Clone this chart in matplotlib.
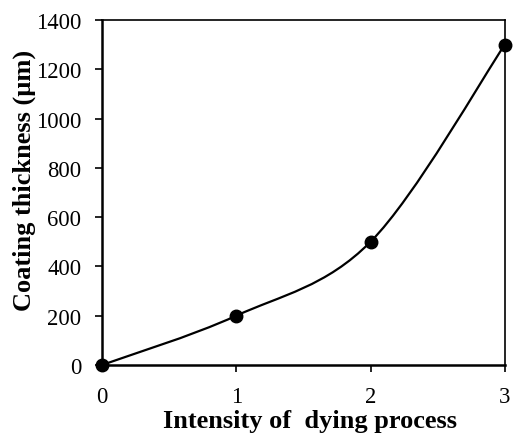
import numpy as np
import matplotlib
matplotlib.use("Agg")
import matplotlib.pyplot as plt
from matplotlib.path import Path
from matplotlib.patches import PathPatch

intensity = [0, 1, 2, 3]
thickness = [0, 200, 500, 1300]
xticks = [0, 1, 2, 3]
yticks = [0, 200, 400, 600, 800, 1000, 1200, 1400]

plt.rcParams['font.family'] = ['Liberation Serif', 'DejaVu Serif']

fig = plt.figure(figsize=(5.13, 4.39), dpi=100)
ax = fig.add_axes([0.1988, 0.1663, 0.7852, 0.7857])
ax.set_xlim(0, 3)
ax.set_ylim(0, 1400)

# Excel-style smoothed line (cardinal Bezier) computed in display space
fig.canvas.draw()
pts = ax.transData.transform(np.column_stack([intensity, thickness]))
n = len(pts)
verts = [pts[0]]
codes = [Path.MOVETO]
for i in range(n - 1):
    p0 = pts[i - 1] if i > 0 else pts[i]
    p1 = pts[i]
    p2 = pts[i + 1]
    p3 = pts[i + 2] if i + 2 < n else pts[i + 1]
    c1 = p1 + (p2 - p0) / 6.0
    c2 = p2 - (p3 - p1) / 6.0
    verts += [c1, c2, p2]
    codes += [Path.CURVE4] * 3
inv = ax.transData.inverted()
verts_data = inv.transform(np.array(verts))
path = Path(verts_data, codes)
ax.add_patch(PathPatch(path, facecolor='none', edgecolor='black', lw=1.6,
                       transform=ax.transData, clip_on=False, zorder=2))

ax.plot(intensity, thickness, 'o', color='black', markersize=9,
        clip_on=False, zorder=3)

ax.set_xticks(xticks)
ax.set_yticks(yticks)
ax.tick_params(direction='out', length=5, width=1.2, labelsize=16.3, pad=10,
               top=False, right=False)
for s in ['left', 'bottom']:
    ax.spines[s].set_linewidth(1.8)
for s in ['top', 'right']:
    ax.spines[s].set_linewidth(1.2)

ax.set_xlabel('Intensity of  dying process', fontsize=19, fontweight='bold')
ax.set_ylabel('Coating thickness (µm)', fontsize=19, fontweight='bold')
ax.xaxis.set_label_coords(0.516, -0.128)
ax.yaxis.set_label_coords(-0.163, 0.538)

fig.savefig('out.png', dpi=100)
